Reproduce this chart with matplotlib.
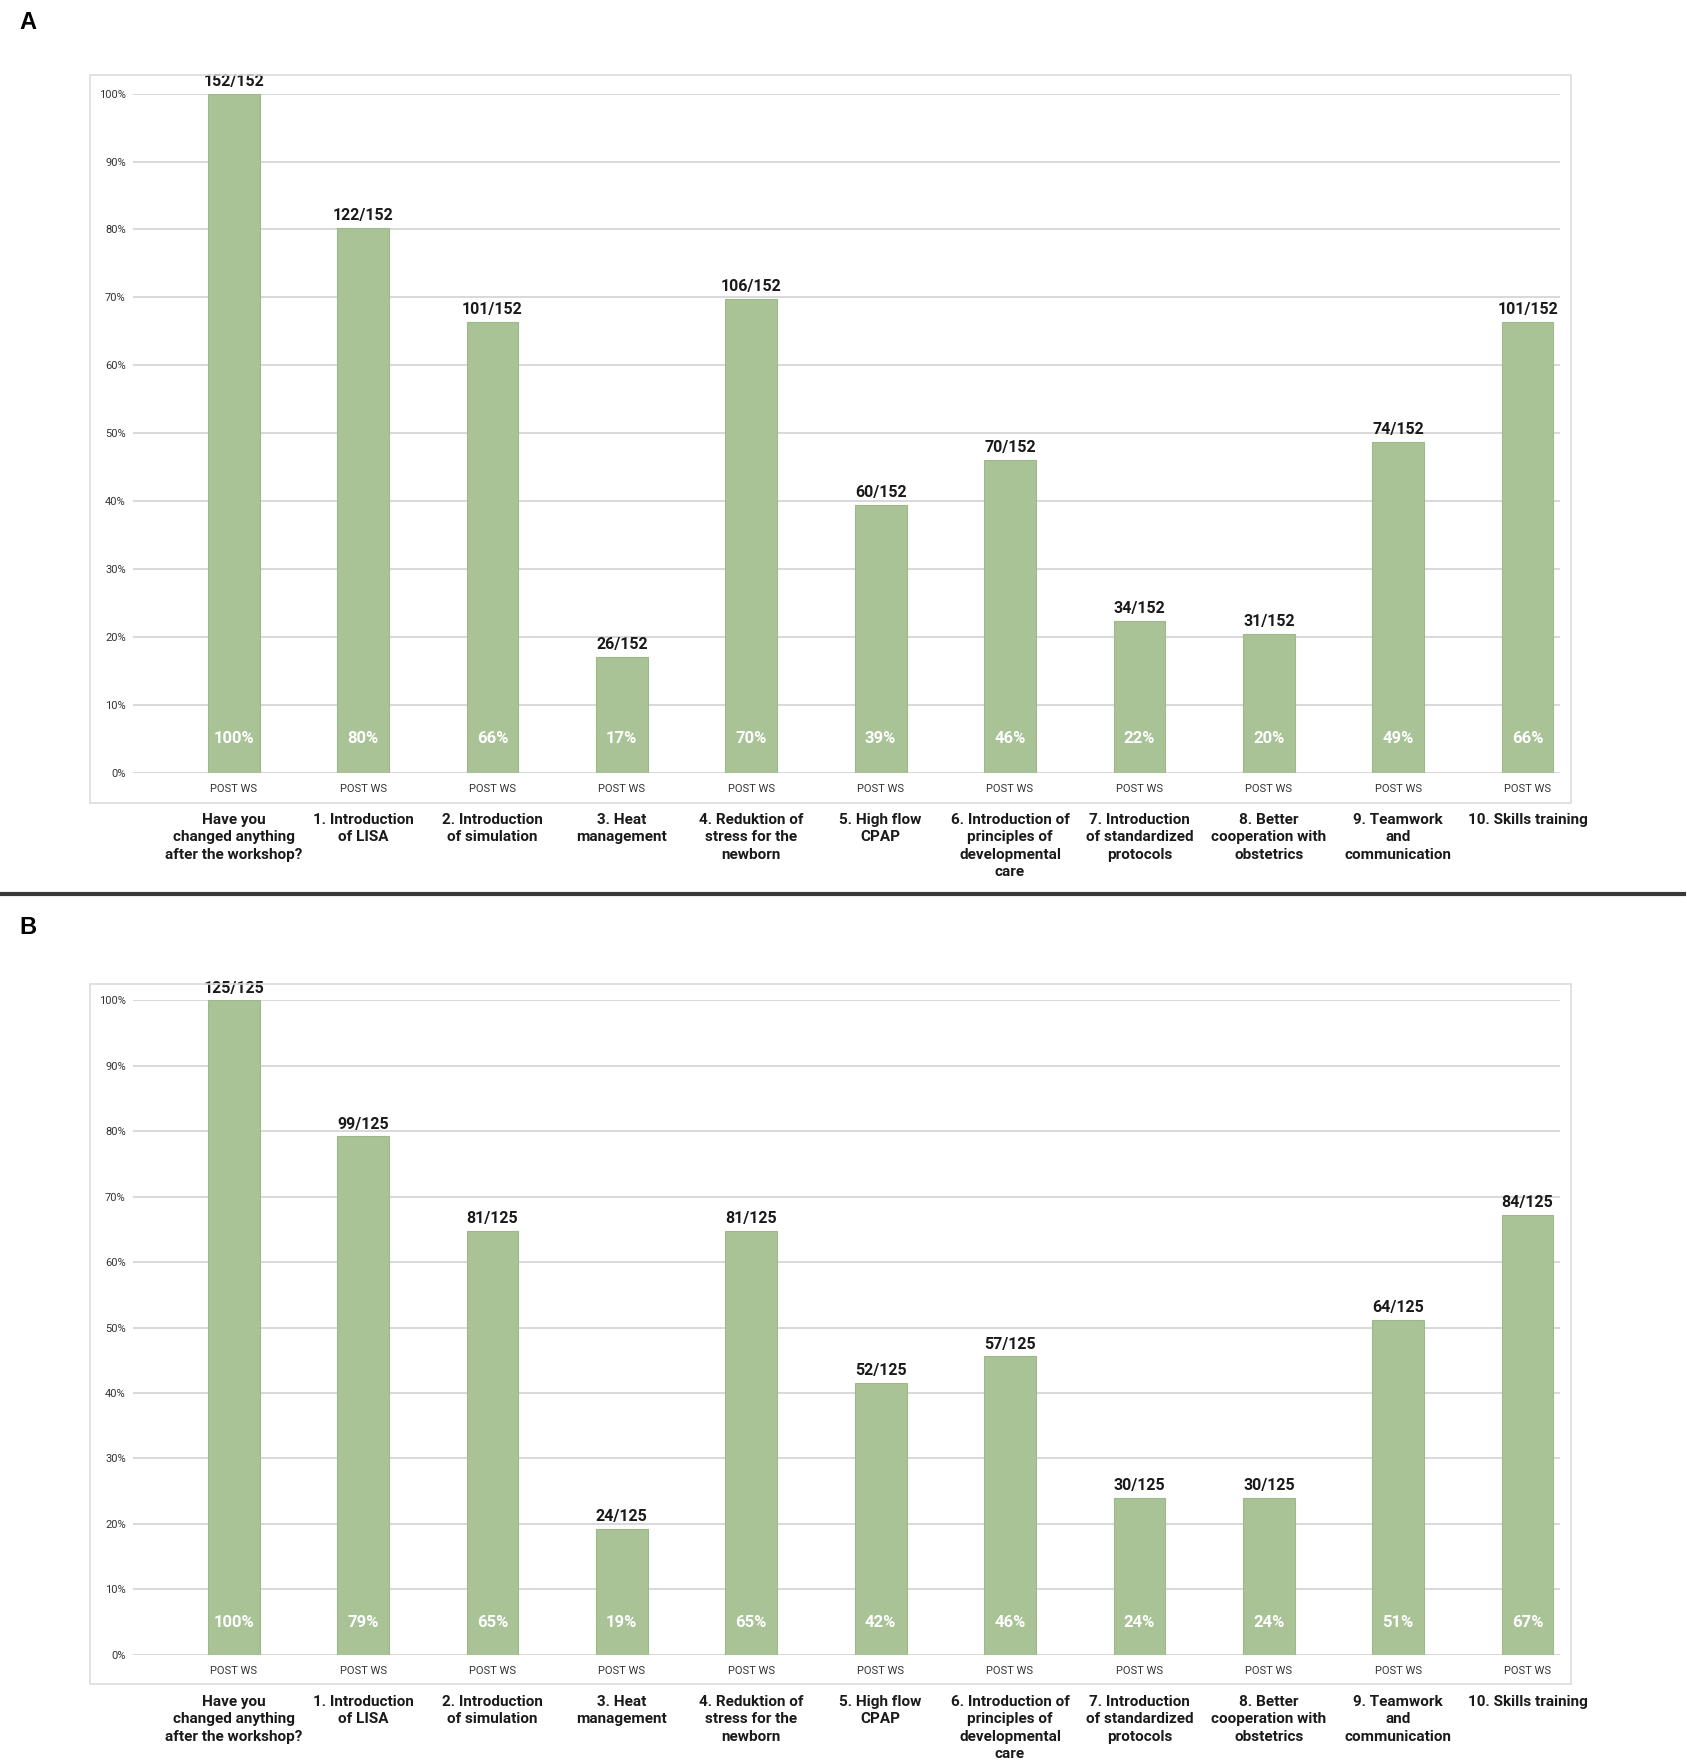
import matplotlib
matplotlib.use("Agg")
import matplotlib.pyplot as plt
from matplotlib.patches import Rectangle

plt.rcParams['font.family'] = ['Roboto', 'DejaVu Sans']

categories = [
    "Have you\nchanged anything\nafter the workshop?",
    "1. Introduction\nof LISA",
    "2. Introduction\nof simulation",
    "3. Heat\nmanagement",
    "4. Reduktion of\nstress for the\nnewborn",
    "5. High flow\nCPAP",
    "6. Introduction of\nprinciples of\ndevelopmental\ncare",
    "7. Introduction\nof standardized\nprotocols",
    "8. Better\ncooperation with\nobstetrics",
    "9. Teamwork\nand\ncommunication",
    "10. Skills training",
]
group_label = "POST WS"

counts_a = [152, 122, 101, 26, 106, 60, 70, 34, 31, 74, 101]
total_a = 152
counts_b = [125, 99, 81, 24, 81, 52, 57, 30, 30, 64, 84]
total_b = 125

yticks = [0, 10, 20, 30, 40, 50, 60, 70, 80, 90, 100]

BAR = '#a9c397'
EDGE = '#9db98a'
GRID = '#d6d6d6'


def draw_panel(fig, rect, frame, counts, total):
    ax = fig.add_axes(rect)
    x = list(range(len(counts)))
    pct = [c / total * 100 for c in counts]
    ax.bar(x, pct, width=0.4, color=BAR, edgecolor=EDGE, linewidth=0.8, zorder=3)
    ax.set_ylim(0, 100)
    ax.set_xlim(-0.78, 10.25)
    ax.set_yticks(yticks)
    ax.set_yticklabels([f"{t}%" for t in yticks], fontsize=8, color='#333333')
    ax.yaxis.grid(True, color=GRID, linewidth=1.3, zorder=0)
    ax.set_axisbelow(True)
    for s in ax.spines.values():
        s.set_visible(False)
    ax.tick_params(length=0, pad=5)
    ax.set_xticks(x)
    ax.set_xticklabels([group_label] * len(x), fontsize=8, color='#333333')
    ax.tick_params(axis='x', pad=8)

    for xi, c, p in zip(x, counts, pct):
        ax.annotate(f"{c}/{total}", (xi, p), xytext=(0, 3.5), textcoords='offset points',
                    ha='center', va='bottom', fontsize=11.5, fontweight='bold', color='#1a1a1a')
        ax.text(xi, 5, f"{round(p)}%", ha='center', va='center', fontsize=12,
                fontweight='bold', color='white', zorder=4)

    for xi, lab in zip(x, categories):
        ax.annotate(lab, (xi, 0), xycoords=('data', 'axes fraction'), xytext=(0, -29),
                    textcoords='offset points', ha='center', va='top', fontsize=11,
                    fontweight='bold', color='#1a1a1a', linespacing=1.3)

    fx0, fy0, fx1, fy1 = frame
    fig.patches.append(Rectangle((fx0, fy0), fx1 - fx0, fy1 - fy0, transform=fig.transFigure,
                                 fill=False, edgecolor='#dcdcdc', linewidth=1.2))
    return ax


fig = plt.figure(figsize=(16.87, 17.64), dpi=100)

draw_panel(fig, [0.0787, 0.5619, 0.846, 0.385], (0.0533, 0.5446, 0.9313, 0.9573), counts_a, total_a)
draw_panel(fig, [0.0787, 0.0619, 0.846, 0.371], (0.0533, 0.0453, 0.9313, 0.442), counts_b, total_b)

fig.text(0.0113, 0.987, "A", fontsize=17, fontweight='bold', family=['Liberation Sans', 'DejaVu Sans'],
         va='center', ha='left')
fig.text(0.0113, 0.474, "B", fontsize=17, fontweight='bold', family=['Liberation Sans', 'DejaVu Sans'],
         va='center', ha='left')
fig.add_artist(plt.Line2D([0, 0.998], [0.493, 0.493], transform=fig.transFigure,
                          color='#383838', linewidth=3))

fig.savefig("out.png", dpi=100, facecolor='white')
